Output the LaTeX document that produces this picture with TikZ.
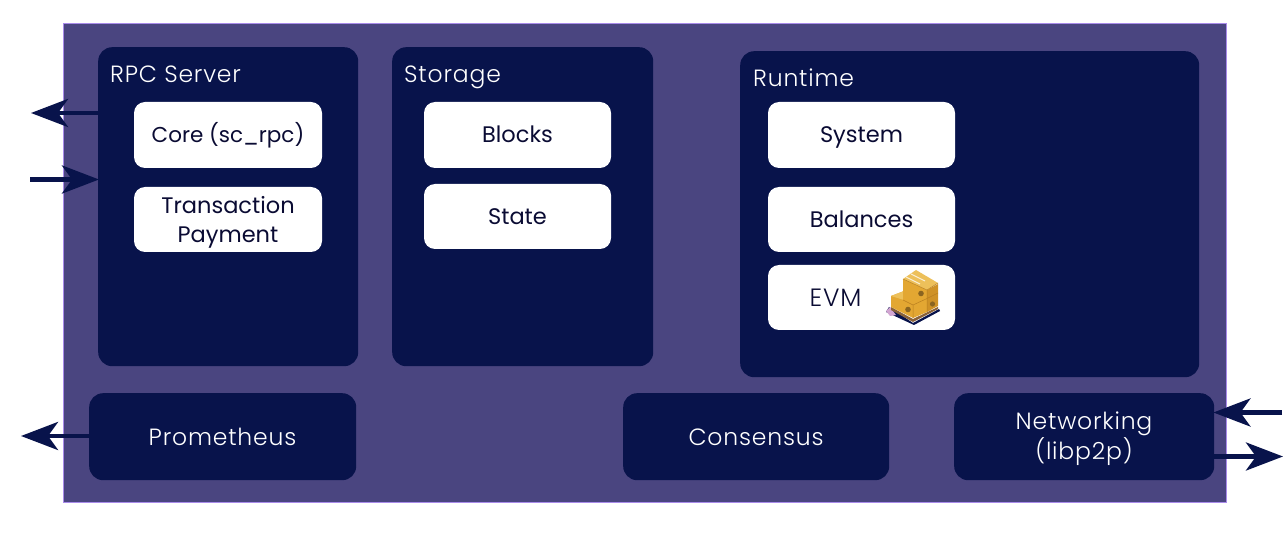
\documentclass[tikz,border=0pt]{standalone}
\usepackage{fontspec}
\setmainfont{Poppins}
\newfontfamily\thinface[LetterSpace=3.5]{Poppins Light}
\newfontfamily\evmface[LetterSpace=3]{Poppins Light}
\usetikzlibrary{arrows.meta}
\definecolor{bgv}{HTML}{4A4580}
\definecolor{navy}{HTML}{08134B}
\definecolor{edgev}{HTML}{A98BEA}
\definecolor{ink}{HTML}{0A0B33}
\definecolor{cratetop}{HTML}{EDC05A}
\definecolor{cratefront}{HTML}{E3A732}
\definecolor{crateside}{HTML}{CF9226}
\definecolor{crateseam}{HTML}{B87F20}
\definecolor{cratemark}{HTML}{8A6420}
\definecolor{pallet}{HTML}{8A6238}
\tikzset{
  x=1pt,y=-1pt,
  panel/.style={fill=navy,draw=none,rounded corners=14pt,inner sep=0pt,anchor=north west},
  card/.style={fill=white,draw=none,rounded corners=11pt,inner sep=0pt,text=ink,align=center,text height=18pt,text depth=2pt,font=\fontsize{22.5}{29}\selectfont},
  cardtext/.style={text=ink,align=center,inner sep=0pt,font=\fontsize{22.5}{29}\selectfont},
  paneltitle/.style={text=white,anchor=base west,inner sep=0pt,font=\thinface\fontsize{23.5}{30}\selectfont},
  unitlabel/.style={text=white,align=center,inner sep=0pt,font=\thinface\fontsize{23.5}{30}\selectfont},
  flow/.style={draw=navy,line width=4.6pt,-{Stealth[length=37pt,width=28pt,inset=10pt,fill=navy]},shorten >=-1pt},
}
\newcommand{\panelbox}[5]{\node[panel,minimum width=#4pt,minimum height=#5pt] (#1) at (#2,#3) {};}
\newcommand{\cardbox}[6]{\node[card,minimum width=#4pt,minimum height=#5pt] (#1) at (#2,#3) {#6};}
\begin{document}
\begin{tikzpicture}
\useasboundingbox (0,0) rectangle (1288,537);
\fill[white] (0,0) rectangle (1288,537);
\node[fill=bgv,draw=edgev,line width=.7pt,inner sep=0pt,anchor=north west,minimum width=1163pt,minimum height=479pt] (frame) at (63,23) {};
\panelbox{rpc}{98}{47}{260}{319}
\panelbox{storage}{392}{47}{261}{319}
\panelbox{runtime}{740}{51}{459}{326}
\node[panel,minimum width=267pt,minimum height=87pt] (prom) at (89,393) {};
\node[panel,minimum width=266pt,minimum height=87pt] (cons) at (623,393) {};
\node[panel,minimum width=260pt,minimum height=87pt] (net) at (954,393) {};
\node[paneltitle] (trpc) at (110,83) {RPC Server};
\node[paneltitle] (tsto) at (404,83) {Storage};
\node[paneltitle] (trun) at (753,87) {Runtime};
\node[unitlabel] (lprom) at (222.5,437) {Prometheus};
\node[unitlabel] (lcons) at (756,437.5) {Consensus};
\node[unitlabel] (lnet) at (1084,438.5) {Networking\\(libp2p)};
\node[card,minimum width=188pt,minimum height=66pt,font=\fontsize{21.5}{29}\selectfont] (core) at (228,135) {Core (sc\_rpc)};
\node[card,minimum width=188pt,minimum height=65pt] (txp) at (228,219.5) {};
\node[cardtext] (ttxp) at (228,222) {Transaction\\Payment};
\cardbox{blocks}{517.5}{135}{187}{66}{Blocks}
\cardbox{state}{517.5}{216.5}{187}{65}{State}
\cardbox{system}{861.5}{135}{187}{66}{System}
\cardbox{balances}{861.5}{219.5}{187}{65}{Balances}
\node[card,minimum width=187pt,minimum height=65pt] (evm) at (861.5,297.5) {};
\node[text=ink,inner sep=0pt,font=\evmface\fontsize{25}{29}\selectfont] (tevm) at (835.5,298) {EVM};
% crate icon
\fill[navy] (886,312) -- (889,307) -- (913,323) -- (939,309) -- (940,311) -- (914,325) -- cycle;
\fill[violet!35] (886,311) -- (890,307) -- (896,315) -- (890,316) -- cycle;
\fill[pallet] (891,307) -- (913,319) -- (938,307) -- (938,309) -- (913,322) -- (891,310) -- cycle;
% low crate
\fill[cratefront] (891,296) -- (904,291) -- (913,296) -- (913,318) -- (891,307) -- cycle;
\fill[cratetop] (891,296) -- (904,291) -- (904,300) -- cycle;
% tall stack
\fill[cratefront] (903,279) -- (927,290) -- (927,312) -- (913,318) -- (913,305) -- (903,300) -- cycle;
\fill[crateside] (927,290) -- (938,284) -- (938,306) -- (927,312) -- cycle;
\fill[cratetop] (903,279) -- (916,270) -- (938,283) -- (927,290) -- cycle;
\draw[white!75!cratetop,line width=1.1pt] (906,277) -- (920,284) (911,274) -- (925,281);
\draw[crateseam,line width=.5pt] (903,300) -- (913,305) -- (927,298.5) -- (938,293) (913,305) -- (913,318) (927,290) -- (927,312) (903,279) -- (927,290) -- (938,283);
\fill[cratemark] (921,293.5) circle (2.8pt) (932.5,304) circle (2.6pt) (908,309.5) circle (2.8pt);
% connectors
\coordinate (outa) at (32,113);
\coordinate (ina) at (30,179.5);
\coordinate (outp) at (22,436);
\coordinate (inn) at (1282,412.5);
\coordinate (outn) at (1282,456.5);
\draw[flow] (rpc.west |- outa) -- (outa);
\draw[flow] (ina) -- (rpc.west |- ina);
\draw[flow] (prom.west |- outp) -- (outp);
\draw[flow] (inn) -- (net.east |- inn);
\draw[flow] (net.east |- outn) -- (outn);
\end{tikzpicture}
\end{document}
